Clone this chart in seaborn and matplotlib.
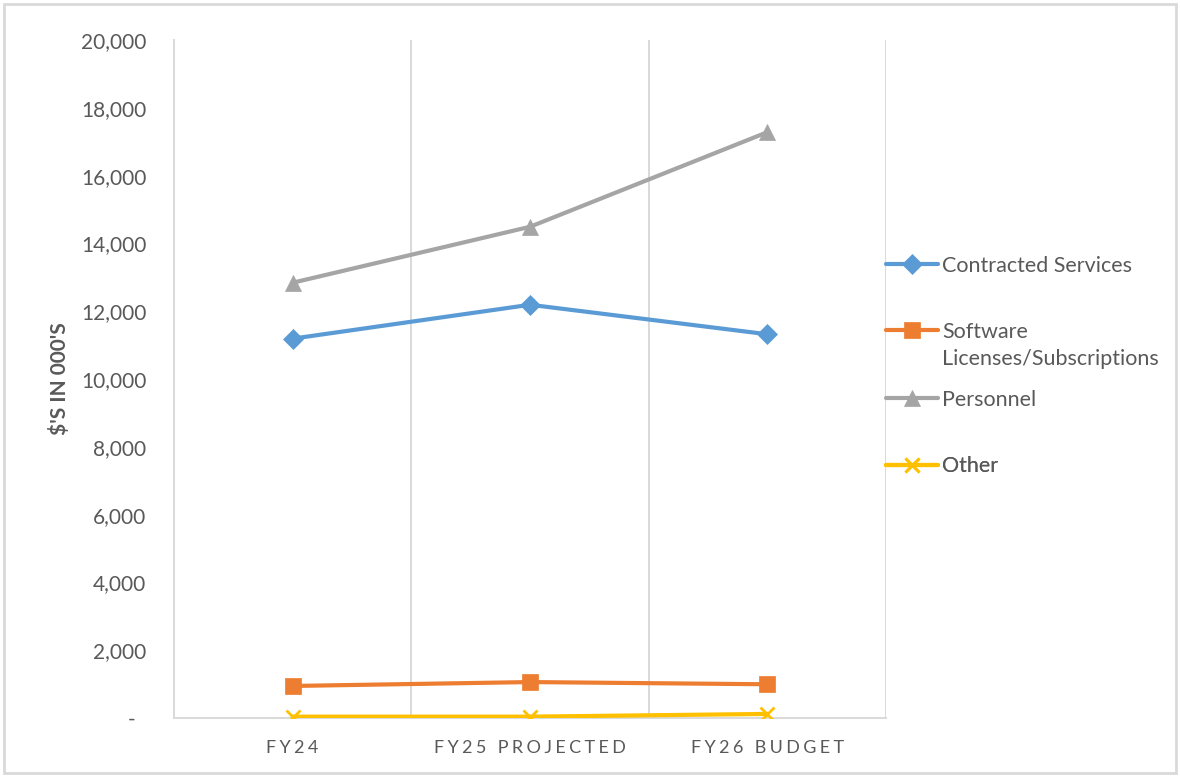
import matplotlib
matplotlib.use("Agg")
import matplotlib.pyplot as plt
from matplotlib.lines import Line2D
from matplotlib.patches import Rectangle
from matplotlib.ticker import FuncFormatter, MultipleLocator
import seaborn as sns
import pandas as pd

# Budget categories (fiscal years)
years = ["FY24", "FY25 PROJECTED", "FY26 BUDGET"]

# Spend by category, $ in thousands
contracted_services = [11190, 12190, 11320]
software_licenses = [945, 1060, 995]
personnel = [12840, 14490, 17280]
other = [40, 40, 120]

series_names = ["Contracted Services", "Software Licenses/Subscriptions", "Personnel", "Other"]
series_values = [contracted_services, software_licenses, personnel, other]
colors = ["#5B9BD5", "#ED7D31", "#A5A5A5", "#FFC000"]
markers = ["D", "s", "^", "x"]
marker_sizes = [10, 11.5, 12, 10]

rows = []
for name, vals in zip(series_names, series_values):
    for i, (yr, v) in enumerate(zip(years, vals)):
        rows.append({"pos": i, "year": yr, "series": name, "value": v})
df = pd.DataFrame(rows)

sns.set_theme(style="white")
plt.rcParams["font.family"] = ["Lato", "DejaVu Sans"]

TEXT = "#595959"
GAP = "\u2009\u200a"


def spaced(s):
    """Letter-spaced caption text."""
    return GAP.join(s)


fig = plt.figure(figsize=(11.8, 7.77), dpi=100)
ax = fig.add_axes([174 / 1180, 1 - 718 / 777, (886 - 174) / 1180, (718 - 40) / 777])

for name, col, mk, ms in zip(series_names, colors, markers, marker_sizes):
    sub = df[df["series"] == name]
    sns.lineplot(data=sub, x="pos", y="value", ax=ax, color=col, lw=3,
                 marker=mk, markersize=ms, markeredgecolor=col,
                 markeredgewidth=2 if mk == "x" else 0.5,
                 label=name, zorder=3)

ax.set_xlim(-0.5, len(years) - 0.5)
ax.set_ylim(0, 20000)
ax.yaxis.set_major_locator(MultipleLocator(2000))
ax.yaxis.set_major_formatter(FuncFormatter(lambda v, p: "-  " if v == 0 else f"{v:,.0f}"))

ax.set_xticks(range(len(years)))
ax.set_xticklabels([spaced(y) for y in years])
# Category separators
for b in [0.5, 1.5, 2.5]:
    ax.axvline(b, color="#D9D9D9", lw=1.4, zorder=1)

for side in ["top", "right"]:
    ax.spines[side].set_visible(False)
for side in ["left", "bottom"]:
    ax.spines[side].set_color("#D9D9D9")
    ax.spines[side].set_linewidth(1.4)

ax.tick_params(axis="y", length=0, pad=20, labelsize=15, labelcolor=TEXT)
ax.tick_params(axis="x", length=0, pad=16, labelsize=13, labelcolor=TEXT)
ax.set_xlabel("")
ax.set_ylabel("\\$'S IN 000'S", fontsize=15, color=TEXT, fontweight="bold", labelpad=8)

# Legend entries placed in fixed slots on the right-hand side;
# the long label wraps onto a second, handle-less row.
handles, labels = ax.get_legend_handles_labels()
ax.get_legend().remove()
blank = Line2D([], [], linestyle="none", marker="none")
entries = [
    ([handles[0]], ["Contracted Services"], 265.5),
    ([handles[1], blank], ["Software", "Licenses/Subscriptions"], 345.5),
    ([handles[2]], ["Personnel"], 399.5),
    ([handles[3]], ["Other"], 466.5),
]
for hs, labs, yp in entries:
    leg = ax.legend(hs, labs, loc="center left",
                    bbox_to_anchor=(1.0, (718 - yp) / 678), frameon=False,
                    fontsize=15.5, handlelength=2.4, handletextpad=0.2,
                    labelspacing=0.35, borderpad=0, borderaxespad=0)
    for t in leg.get_texts():
        t.set_color(TEXT)
    ax.add_artist(leg)

fig.add_artist(Rectangle((4 / 1180, 4 / 777), 1 - 8 / 1180, 1 - 8 / 777,
                         transform=fig.transFigure, fill=False,
                         edgecolor="#D9D9D9", lw=2))

fig.savefig("out.png", dpi=100, facecolor="white")
